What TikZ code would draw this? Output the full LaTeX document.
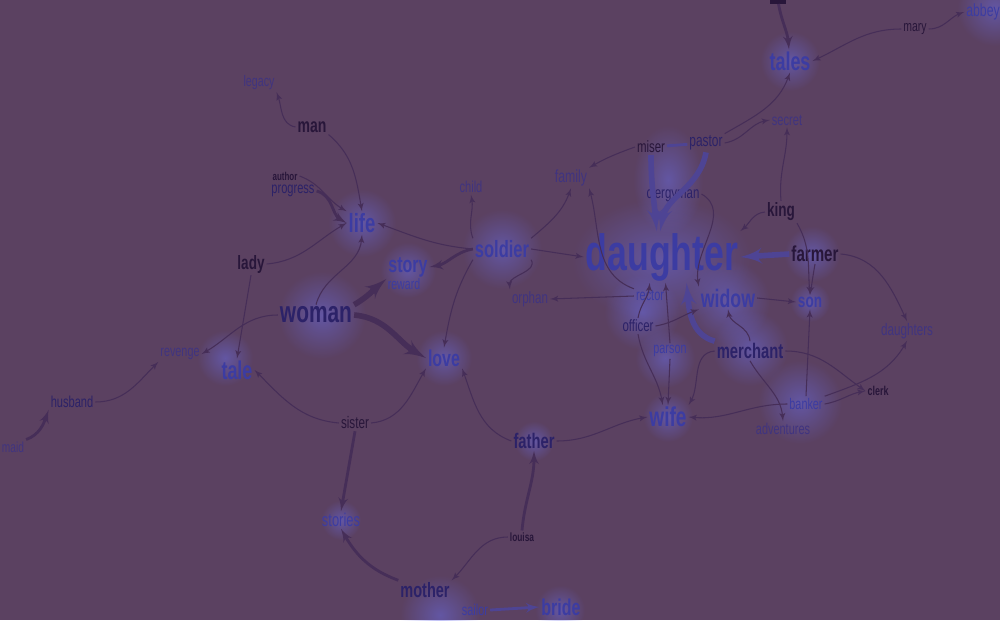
\documentclass[tikz,border=0pt]{standalone}
\usepackage{fontspec}
\setmainfont{Liberation Sans}[FakeStretch=0.7]
\usetikzlibrary{arrows,fadings}

\definecolor{bgc}{RGB}{91,65,97}
\definecolor{inkdark}{RGB}{40,22,58}
\definecolor{inknavy}{RGB}{44,34,104}
\definecolor{inkblue}{RGB}{60,60,162}
\definecolor{inkpale}{RGB}{64,52,128}
\definecolor{edgec}{RGB}{70,46,88}
\definecolor{edgeblue}{RGB}{78,68,148}
\definecolor{glowc}{RGB}{108,110,235}

\newcommand\wsize[1]{\fontsize{#1pt}{#1pt}\selectfont}
\tikzfading[name=glowfade, inner color=transparent!52, outer color=transparent!100]

\begin{document}
\begin{tikzpicture}
                [
                x=0.02cm,y=0.02cm,
                word/.style={inner sep=1pt},
                darkw/.style={word,text=inkdark},
                navyw/.style={word,text=inknavy},
                bluew/.style={word,text=inkblue},
                palew/.style={word,text=inkpale},
                edge/.style={->,> = latex',draw=edgec,line width=0.6pt},
                thickedge/.style={edge,line width=1.6pt},
                heavyedge/.style={edge,line width=3.2pt},
                glow/.style={glowc,path fading=glowfade}
                ]
            \fill[bgc] (0,0) rectangle (1000,620);
            \useasboundingbox (0,0) rectangle (1000,620);
            % glows
            \fill[glow] (662,360) ellipse (90 and 62);
            \fill[glow] (668,440) ellipse (35 and 55);
            \fill[glow] (728,318) circle (42);
            \fill[glow] (750,272) circle (38);
            \fill[glow] (642,308) circle (38);
            \fill[glow] (665,262) circle (30);
            \fill[glow] (800,218) circle (42);
            \fill[glow] (812,366) circle (28);
            \fill[glow] (810,318) circle (20);
            \fill[glow] (362,397) circle (34);
            \fill[glow] (502,371) circle (40);
            \fill[glow] (322,305) circle (44);
            \fill[glow] (408,350) circle (28);
            \fill[glow] (444,262) circle (28);
            \fill[glow] (225,262) circle (28);
            \fill[glow] (790,559) circle (30);
            \fill[glow] (995,612) circle (38);
            \fill[glow] (341,100) circle (20);
            \fill[glow] (534,179) circle (20);
            \fill[glow] (668,203) circle (25);
            \fill[glow] (440,5) circle (40);
            \fill[glow] (560,10) circle (25);
            % words
            \node[fill=inkdark, minimum width=9pt, minimum height=3pt, inner sep=0pt] (topword) at (778,619) {};
            \node[bluew, font=\wsize{10}] (abbey) at (983,608) {abbey};
            \node[darkw, font=\wsize{8.5}] (mary) at (915,591) {mary};
            \node[bluew, font=\bfseries\wsize{14.6}] (tales) at (790,559) {tales};
            \node[palew, font=\wsize{9}] (secret) at (787,500) {secret};
            \node[palew, font=\wsize{8.7}] (legacy) at (259,537) {legacy};
            \node[darkw, font=\bfseries\wsize{11.4}] (man) at (312,493) {man};
            \node[darkw, font=\bfseries\wsize{6.5}] (author) at (285,444) {author};
            \node[navyw, font=\wsize{9}] (progress) at (293,429) {progress};
            \node[bluew, font=\bfseries\wsize{15}] (life) at (362,397) {life};
            \node[darkw, font=\bfseries\wsize{11}] (lady) at (251,356) {lady};
            \node[bluew, font=\bfseries\wsize{13}] (story) at (408,353) {story};
            \node[bluew, font=\wsize{8.6}] (reward) at (404,336) {reward};
            \node[navyw, font=\bfseries\wsize{17}] (woman) at (316,305) {woman};
            \node[palew, font=\wsize{8.8}] (revenge) at (180,266) {revenge};
            \node[bluew, font=\bfseries\wsize{14.6}] (tale) at (237,250) {tale};
            \node[navyw, font=\wsize{9}] (husband) at (72,218) {husband};
            \node[palew, font=\wsize{8.3}] (maid) at (13,173) {maid};
            \node[palew, font=\wsize{9}] (child) at (471,433) {child};
            \node[palew, font=\wsize{10}] (family) at (571,442) {family};
            \node[bluew, font=\bfseries\wsize{13.4}] (soldier) at (502,371) {soldier};
            \node[palew, font=\wsize{9.4}] (orphan) at (530,321) {orphan};
            \node[bluew, font=\bfseries\wsize{13}] (love) at (444,262) {love};
            \node[darkw, font=\wsize{9.5}] (sister) at (355,197) {sister};
            \node[bluew, font=\wsize{10.5}] (stories) at (341,100) {stories};
            \node[navyw, font=\bfseries\wsize{12}] (father) at (534,179) {father};
            \node[darkw, font=\bfseries\wsize{6.8}] (louisa) at (522,83) {louisa};
            \node[navyw, font=\bfseries\wsize{11.8}] (mother) at (425,30) {mother};
            \node[bluew, font=\wsize{8.9}] (sailor) at (475,10) {sailor};
            \node[bluew, font=\bfseries\wsize{13}] (bride) at (561,13) {bride};
            \node[darkw, font=\wsize{9.3}] (miser) at (651,473) {miser};
            \node[navyw, font=\wsize{9.7}] (pastor) at (706,477) {pastor};
            \node[navyw, font=\wsize{9.3}] (clergyman) at (673,426) {clergyman};
            \node[darkw, font=\bfseries\wsize{11}] (king) at (781,408) {king};
            \node[bluew, font=\bfseries\wsize{29}] (daughter) at (662,363) {daughter};
            \node[darkw, font=\bfseries\wsize{12.3}] (farmer) at (815,366) {farmer};
            \node[bluew, font=\wsize{8.9}] (rector) at (650,324) {rector};
            \node[bluew, font=\bfseries\wsize{14.4}] (widow) at (728,322) {widow};
            \node[bluew, font=\bfseries\wsize{11}] (son) at (810,318) {son};
            \node[navyw, font=\wsize{9.3}] (officer) at (638,294) {officer};
            \node[palew, font=\wsize{9.5}] (daughters) at (907,289) {daughters};
            \node[bluew, font=\wsize{8.8}] (parson) at (670,269) {parson};
            \node[navyw, font=\bfseries\wsize{12}] (merchant) at (750,269) {merchant};
            \node[darkw, font=\bfseries\wsize{7.3}] (clerk) at (878,229) {clerk};
            \node[bluew, font=\wsize{8.8}] (banker) at (806,216) {banker};
            \node[bluew, font=\bfseries\wsize{15.5}] (wife) at (668,203) {wife};
            \node[palew, font=\wsize{8.9}] (adventures) at (783,191) {adventures};
            % connectors
            \draw[thickedge] (topword) to[out=-80,in=95] (tales);
            \draw[edge] (mary.west) to[out=180,in=25] (tales.east);
            \draw[edge] (mary.east) to[out=0,in=200] (abbey.west);
            \draw[edge] (pastor.north east) to[out=30,in=-110] (tales.south);
            \draw[edge] (pastor.east) to[out=10,in=190] (secret.west);
            \draw[edge] (king.north) to[out=95,in=-90] (secret.south);
            \draw[thickedge,-,draw=edgeblue] (miser) -- (pastor);
            \draw[edge] (miser.west) to[out=200,in=30] (family.north east);
            \draw[heavyedge,draw=edgeblue] (miser.south) to[out=-90,in=95] ([xshift=-3pt]daughter.north);
            \draw[heavyedge,draw=edgeblue] (pastor.south) to[out=-100,in=80] ([xshift=-1pt]daughter.north);
            \draw[edge] (clergyman.east) to[out=-30,in=100] (widow.north west);
            \draw[edge] (king.west) to[out=185,in=40] (daughter.north east);
            \draw[edge] (king.south east) to[out=-60,in=95] (son.north);
            \draw[heavyedge,draw=edgeblue] (farmer.west) -- (daughter.east);
            \draw[edge] (farmer.south) to[out=-100,in=80] (son.north);
            \draw[edge] (farmer.east) to[out=-5,in=115] (daughters.north);
            \draw[edge] (widow.east) -- (son.west);
            \draw[heavyedge,draw=edgeblue] (merchant.north west) to[out=165,in=-85] ([xshift=14pt]daughter.south);
            \draw[edge] (merchant.north) to[out=95,in=-80] (widow.south);
            \draw[edge] (officer.east) to[out=10,in=200] (widow.south west);
            \draw[edge] (rector.west) -- (orphan.east);
            \draw[edge] (rector.north west) to[out=160,in=-75] (family.south east);
            \draw[edge] (officer.north) to[out=80,in=-95] ([xshift=-7pt]daughter.south);
            \draw[edge] (parson.north) -- ([xshift=2pt]daughter.south);
            \draw[edge] (officer.south) to[out=-80,in=100] ([xshift=-3pt]wife.north);
            \draw[edge] (parson.south) -- (wife.north);
            \draw[edge] (soldier.east) -- (daughter.west);
            \draw[edge] (soldier.north west) to[out=110,in=-80] (child.south);
            \draw[edge] (soldier.north east) to[out=40,in=-110] (family.south);
            \draw[edge] (soldier.south east) to[out=-60,in=95] (orphan.north west);
            \draw[edge] (soldier.west) to[out=175,in=-20] (life.east);
            \draw[thickedge] (soldier.west) to[out=190,in=10] (story.east);
            \draw[edge] (soldier.south west) to[out=-120,in=80] (love.north);
            \draw[edge] (woman.north) to[out=75,in=-95] (life.south);
            \draw[edge] (lady.east) to[out=5,in=210] (life.west);
            \draw[edge] (man.south east) to[out=-40,in=100] (life.north);
            \draw[edge] (man.west) to[out=170,in=-70] (legacy.south east);
            \draw[thickedge] (progress.east) to[out=-15,in=150] (life.west);
            \draw[edge] (author.east) to[out=-20,in=150] (life.north west);
            \draw[heavyedge] (woman.north east) to[out=30,in=-140] (story.south west);
            \draw[heavyedge] (woman.east) to[out=-5,in=150] (love.west);
            \draw[edge] (woman.west) to[out=180,in=30] (revenge.east);
            \draw[edge] (lady.south) -- (tale.north);
            \draw[edge] (husband.east) to[out=0,in=-135] (revenge.south west);
            \draw[thickedge] (maid.north east) to[out=20,in=-110] (husband.south west);
            \draw[edge] (sister.west) to[out=175,in=-45] (tale.east);
            \draw[edge] (sister.east) to[out=5,in=-120] (love.south west);
            \draw[thickedge] (sister.south) -- (stories.north);
            \draw[edge] (father.west) to[out=160,in=-70] (love.south east);
            \draw[edge] (father.east) to[out=0,in=190] (wife.west);
            \draw[thickedge] (louisa.north) to[out=85,in=-90] (father.south);
            \draw[edge] (louisa.west) to[out=180,in=45] (mother.north east);
            \draw[thickedge] (mother.north west) to[out=160,in=-60] (stories.south);
            \draw[thickedge,draw=edgeblue] (sailor.east) -- (bride.west);
            \draw[edge] (merchant.west) to[out=185,in=60] (wife.north east);
            \draw[edge] (merchant.south) to[out=-60,in=95] (adventures.north);
            \draw[edge] (merchant.east) to[out=0,in=145] (clerk.west);
            \draw[edge] (banker.west) to[out=180,in=-5] (wife.east);
            \draw[edge] (banker.north) -- (son.south);
            \draw[edge] (banker.east) to[out=10,in=190] (clerk.west);
            \draw[edge] (banker.north east) to[out=20,in=-120] (daughters.south);
            \end{tikzpicture}
\end{document}
